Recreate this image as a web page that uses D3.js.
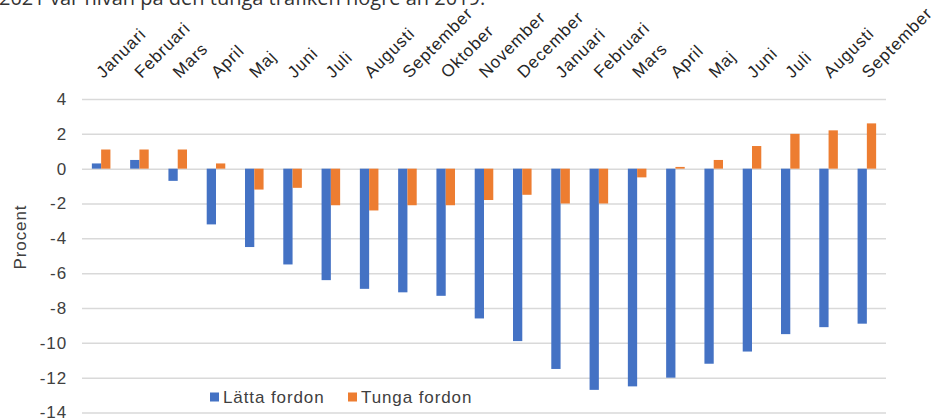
<!DOCTYPE html>
<html>
<head>
<meta charset="utf-8">
<script src="https://cdn.jsdelivr.net/npm/d3@7"></script>
<style>
  html, body { margin: 0; padding: 0; background: #fff; }
  svg { display: block; }
</style>
</head>
<body>
<svg id="chart" width="938" height="420"></svg>
<script>
// Månader (jan 2020 – sep 2021 jämfört med 2019)
const months = ["Januari", "Februari", "Mars", "April", "Maj", "Juni", "Juli", "Augusti",
  "September", "Oktober", "November", "December", "Januari", "Februari", "Mars", "April",
  "Maj", "Juni", "Juli", "Augusti", "September"];

// Förändring i procent
const lattaFordon = [0.3, 0.5, -0.7, -3.2, -4.5, -5.5, -6.4, -6.9, -7.1, -7.3, -8.6,
  -9.9, -11.5, -12.7, -12.5, -12.0, -11.2, -10.5, -9.5, -9.1, -8.9];
const tungaFordon = [1.1, 1.1, 1.1, 0.3, -1.2, -1.1, -2.1, -2.4, -2.1, -2.1, -1.8,
  -1.5, -2.0, -2.0, -0.5, 0.1, 0.5, 1.3, 2.0, 2.2, 2.6];

const yTicks = [-14, -12, -10, -8, -6, -4, -2, 0, 2, 4];
const seriesNames = ["Lätta fordon", "Tunga fordon"];
const colors = ["#4472C4", "#ED7D31"];

const svg = d3.select("#chart");
const plotLeft = 82, plotRight = 886, plotTop = 99, plotBottom = 412.5;

const x = d3.scaleBand()
  .domain(d3.range(months.length))
  .range([plotLeft, plotRight])
  .paddingInner(0.515)
  .paddingOuter(0.2575);

const xs = d3.scaleBand()
  .domain([0, 1])
  .range([0, x.bandwidth()]);

const y = d3.scaleLinear()
  .domain([-14, 4])
  .range([plotBottom, plotTop]);

const font = "Liberation Sans, Arial, sans-serif";
const fontSize = 17;
const spacing = "0.9px";

// Rubrikrad ovanför diagrammet (delvis avklippt)
svg.append("text")
  .attr("x", -1)
  .attr("y", 5)
  .attr("font-family", "Open Sans, sans-serif")
  .attr("font-size", 20)
  .attr("fill", "#333")
  .text("2021 var nivån på den tunga trafiken högre än 2019.");

// Y-axel med stödlinjer
const yAxis = svg.append("g")
  .attr("transform", `translate(${plotLeft},0)`)
  .call(d3.axisLeft(y)
    .tickValues(yTicks)
    .tickSize(-(plotRight - plotLeft))
    .tickPadding(15)
    .tickFormat(d => String(d)));
yAxis.select(".domain").remove();
yAxis.selectAll(".tick line")
  .attr("stroke", "#d9d9d9")
  .attr("stroke-width", 1.5);
yAxis.selectAll(".tick text")
  .attr("font-family", font)
  .attr("font-size", fontSize)
  .attr("letter-spacing", spacing)
  .attr("fill", "#404040");

// Staplar
const data = [lattaFordon, tungaFordon];
data.forEach((vals, s) => {
  svg.append("g")
    .selectAll("rect")
    .data(vals)
    .join("rect")
    .attr("x", (d, i) => x(i) + xs(s))
    .attr("width", xs.bandwidth())
    .attr("y", d => y(Math.max(0, d)))
    .attr("height", d => Math.abs(y(d) - y(0)))
    .attr("fill", colors[s]);
});

// Kategoriaxel överst med lutande etiketter
const xAxis = svg.append("g")
  .attr("transform", "translate(2,79)")
  .call(d3.axisTop(x).tickSize(0).tickFormat(i => months[i]));
xAxis.select(".domain").remove();
xAxis.selectAll(".tick text")
  .attr("x", 0)
  .attr("y", 0)
  .attr("dy", 0)
  .attr("text-anchor", "start")
  .attr("transform", "rotate(-45)")
  .attr("font-family", font)
  .attr("font-size", fontSize)
  .attr("letter-spacing", spacing)
  .attr("fill", "#262626");

// Y-axelns titel
svg.append("text")
  .attr("transform", "translate(26,237) rotate(-90)")
  .attr("text-anchor", "middle")
  .attr("font-family", font)
  .attr("font-size", fontSize)
  .attr("letter-spacing", spacing)
  .attr("fill", "#404040")
  .text("Procent");

// Teckenförklaring
const legend = svg.append("g").attr("transform", "translate(210,397)");
const legendX = [0, 138];
seriesNames.forEach((name, s) => {
  const g = legend.append("g").attr("transform", `translate(${legendX[s]},0)`);
  g.append("rect")
    .attr("x", 0).attr("y", -4.5)
    .attr("width", 9).attr("height", 9)
    .attr("fill", colors[s]);
  g.append("text")
    .attr("x", 13).attr("y", 6)
    .attr("font-family", font)
    .attr("font-size", fontSize)
    .attr("letter-spacing", spacing)
    .attr("fill", "#404040")
    .text(name);
});
</script>
</body>
</html>
